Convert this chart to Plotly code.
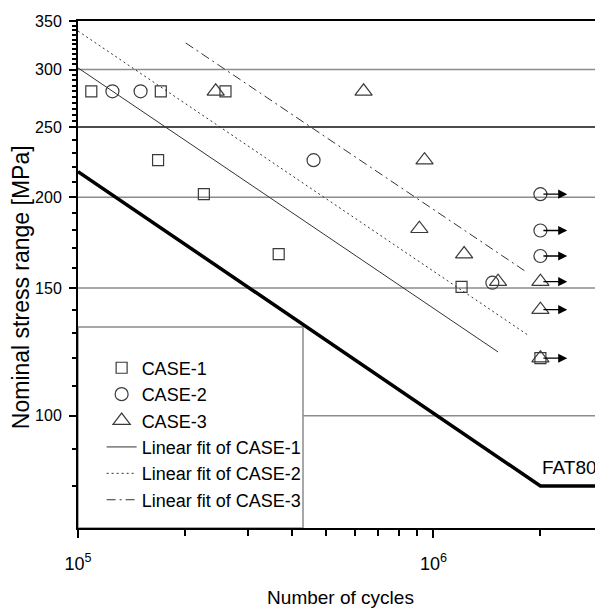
import math
import plotly.graph_objects as go

# ---------------- data ----------------
case1_N = [1.09e5, 1.68e5, 1.71e5, 2.26e5, 2.60e5, 3.67e5, 1.20e6]
case1_S = [280, 225, 280, 202, 280, 167, 150.5]
case2_N = [1.25e5, 1.50e5, 4.60e5, 1.465e6]
case2_S = [280, 280, 225, 152.5]
case3_N = [2.44e5, 6.36e5, 9.13e5, 9.44e5, 1.22e6, 1.52e6]
case3_S = [280, 280, 181, 225, 167, 153]

runout_N = 2.0e6
runout_arrow_N = 2.38e6
case1_runout_S = [120]
case2_runout_S = [202, 180, 166]
case3_runout_S = [153, 140, 120]

fit1_N = [1.0e5, 1.52e6]
fit1_S = [301.6, 122.4]
fit2_N = [1.0e5, 1.86e6]
fit2_S = [339, 128.8]
fit3_N = [2.01e5, 1.84e6]
fit3_S = [326.4, 157.4]

fat_N = [1.0e5, 2.0e6, 3.0e6]
fat_S = [217, 80, 80]
fat_label = "FAT80"
fat_label_N = 2.42e6
fat_label_S = 84.8

x_ticks = [1e5, 1e6]
x_ticktext = ["10<sup>5</sup>", "10<sup>6</sup>"]
y_ticks = [100, 150, 200, 250, 300, 350]
y_minor = ([80, 90, 110, 120, 130, 140, 160, 170, 180, 190, 210, 220, 230, 240]
           + [255, 260, 265, 270, 275, 280, 285, 290, 295]
           + [305, 310, 315, 320, 325, 330, 335, 340, 345])
x_minor = [2e5, 3e5, 4e5, 5e5, 6e5, 7e5, 8e5, 9e5, 2e6]
grid_vals = [100, 150, 200, 250, 300]
grid_colors = ["#8c8c8c", "#8c8c8c", "#8c8c8c", "#111111", "#8c8c8c"]

x_range = [1e5, 3e6]
y_range = [70, 350]

SANS = "Liberation Sans, Arial, sans-serif"
MK = "#3a3a3a"

fig = go.Figure()

fig.add_trace(go.Scatter(x=case1_N, y=case1_S, mode="markers", name="CASE-1",
                         marker=dict(symbol="square-open", size=11, color=MK, line=dict(width=1.2))))
fig.add_trace(go.Scatter(x=case2_N, y=case2_S, mode="markers", name="CASE-2",
                         marker=dict(symbol="circle-open", size=13, color=MK, line=dict(width=1.2))))
fig.add_trace(go.Scatter(x=case3_N, y=case3_S, mode="markers", name="CASE-3",
                         marker=dict(symbol="triangle-up-open", size=15, color=MK, line=dict(width=1.2))))
fig.add_trace(go.Scatter(x=fit1_N, y=fit1_S, mode="lines", name="Linear fit of CASE-1",
                         line=dict(color="#333333", width=1)))
fig.add_trace(go.Scatter(x=fit2_N, y=fit2_S, mode="lines", name="Linear fit of CASE-2",
                         line=dict(color="#333333", width=1, dash="2px,3px")))
fig.add_trace(go.Scatter(x=fit3_N, y=fit3_S, mode="lines", name="Linear fit of CASE-3",
                         line=dict(color="#333333", width=1, dash="9px,4px,2px,4px")))

# run-outs
fig.add_trace(go.Scatter(x=[runout_N] * len(case1_runout_S), y=case1_runout_S, mode="markers",
                         showlegend=False,
                         marker=dict(symbol="square-open", size=11, color=MK, line=dict(width=1.2))))
fig.add_trace(go.Scatter(x=[runout_N] * len(case2_runout_S), y=case2_runout_S, mode="markers",
                         showlegend=False,
                         marker=dict(symbol="circle-open", size=13, color=MK, line=dict(width=1.2))))
fig.add_trace(go.Scatter(x=[runout_N] * len(case3_runout_S), y=case3_runout_S, mode="markers",
                         showlegend=False,
                         marker=dict(symbol="triangle-up-open", size=15, color=MK, line=dict(width=1.2))))

# FAT80 line
fig.add_trace(go.Scatter(x=fat_N, y=fat_S, mode="lines", showlegend=False,
                         line=dict(color="black", width=3.5)))

# arrows for run-outs
for s in sorted(set(case1_runout_S + case2_runout_S + case3_runout_S)):
    fig.add_annotation(x=math.log10(runout_arrow_N), y=math.log10(s),
                       ax=math.log10(runout_N), ay=math.log10(s),
                       xref="x", yref="y", axref="x", ayref="y",
                       showarrow=True, arrowhead=2, arrowsize=1.4, arrowwidth=1.3,
                       arrowcolor="black", text=" ", standoff=0, startstandoff=0)

fig.add_annotation(x=math.log10(fat_label_N), y=math.log10(fat_label_S), xref="x", yref="y",
                   text=fat_label, showarrow=False,
                   font=dict(family=SANS, size=19, color="black"))

# y-axis title as annotation (positioned in paper units)
fig.add_annotation(x=-0.1086, xref="paper", xanchor="center", y=0.475, yref="paper",
                   yanchor="middle", text="Nominal stress range [MPa]", textangle=-90,
                   showarrow=False, font=dict(family=SANS, size=23, color="black"))

# horizontal grid lines
for g, c in zip(grid_vals, grid_colors):
    fig.add_shape(type="line", xref="x domain", yref="y", x0=0, x1=1, y0=g, y1=g,
                  line=dict(color=c, width=1.5), layer="below")
# legend background box (covers grid)
fig.add_shape(type="rect", xref="x domain", yref="y domain", x0=0, x1=0.4286, y0=0, y1=0.3964,
              fillcolor="white", line=dict(color="#8c8c8c", width=1.5), layer="below")

fig.update_layout(
    width=595, height=600,
    margin=dict(l=70, r=0, t=13, b=80, autoexpand=False),
    paper_bgcolor="white", plot_bgcolor="white",
    showlegend=True,
    legend=dict(x=0.045, y=0.352, xanchor="left", yanchor="top",
                bgcolor="rgba(0,0,0,0)", borderwidth=0,
                font=dict(family=SANS, size=18, color="black"),
                tracegroupgap=0, itemwidth=30),
    xaxis=dict(type="log", range=[math.log10(x_range[0]), math.log10(x_range[1])],
               automargin=False,
               showgrid=False, zeroline=False, showline=True, linecolor="black", linewidth=2,
               mirror=True, ticks="outside", ticklen=8, tickwidth=1.5, tickcolor="black",
               tickmode="array", tickvals=x_ticks, ticktext=x_ticktext,
               tickfont=dict(family=SANS, size=18, color="black"),
               ticklabelstandoff=10,
               minor=dict(tickmode="array", tickvals=x_minor, ticks="outside", ticklen=6,
                          tickwidth=1.5, tickcolor="black", showgrid=False),
               title=dict(text="Number of cycles", font=dict(family=SANS, size=19, color="black"),
                          standoff=19)),
    yaxis=dict(type="log", range=[math.log10(y_range[0]), math.log10(y_range[1])],
               automargin=False,
               showgrid=False, zeroline=False,
               showline=True, linecolor="black", linewidth=2,
               ticks="outside", ticklen=7, tickwidth=1.5, tickcolor="black",
               tickmode="array", tickvals=y_ticks, ticktext=[str(v) for v in y_ticks],
               tickfont=dict(family=SANS, size=16, color="black"),
               ticklabelstandoff=4,
               minor=dict(tickmode="array", tickvals=y_minor, ticks="outside", ticklen=4,
                          tickwidth=1.5, tickcolor="black", showgrid=False)),
)

fig.write_html("out.html")
